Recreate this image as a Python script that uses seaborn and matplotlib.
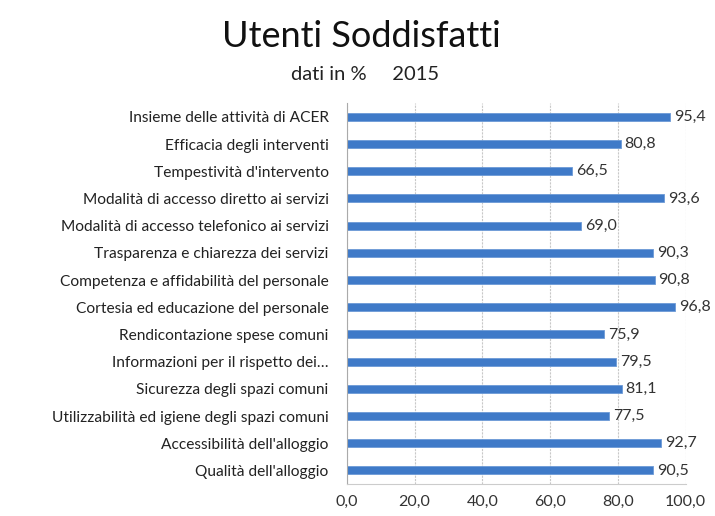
import numpy as np
import pandas as pd
import matplotlib
matplotlib.use("Agg")
import matplotlib.pyplot as plt
import seaborn as sns

# ========== DATI ==========
categorie = [
    "Insieme delle attività di ACER",
    "Efficacia degli interventi",
    "Tempestività d'intervento",
    "Modalità di accesso diretto ai servizi",
    "Modalità di accesso telefonico ai servizi",
    "Trasparenza e chiarezza dei servizi",
    "Competenza e affidabilità del personale",
    "Cortesia ed educazione del personale",
    "Rendicontazione spese comuni",
    "Informazioni per il rispetto dei…",
    "Sicurezza degli spazi comuni",
    "Utilizzabilità ed igiene degli spazi comuni",
    "Accessibilità dell'alloggio",
    "Qualità dell'alloggio",
]
valori = [95.4, 80.8, 66.5, 93.6, 69.0, 90.3, 90.8, 96.8, 75.9, 79.5, 81.1, 77.5, 92.7, 90.5]
tick_x = [0, 20, 40, 60, 80, 100]

df = pd.DataFrame({"categoria": categorie, "valore": valori})

sns.set_style("white")
plt.rcParams["font.family"] = ["Lato", "DejaVu Sans"]

# ========== GRAFICO ==========
fig = plt.figure(figsize=(7.15, 5.16), dpi=100)
ax = fig.add_axes([0.485, 0.062, 0.474, 0.738])

sns.barplot(data=df, x="valore", y="categoria", orient="h", color="#3F7AC8",
            width=0.3, saturation=1, edgecolor="#6C9AD6", linewidth=0.6, ax=ax)

# etichette dei valori
for i, v in enumerate(valori):
    ax.text(v + 1.2, i, f"{v:.1f}".replace(".", ","), va="center", ha="left",
            fontsize=11.5, color="#333333")

ax.set_xlim(0, 100)
ax.set_ylim(len(categorie) - 0.5, -0.5)
ax.set_xticks(tick_x)
ax.set_xticklabels([f"{t:.1f}".replace(".", ",") for t in tick_x], fontsize=11.5, color="#333333")
ax.set_yticks(range(len(categorie)))
ax.set_yticklabels(categorie, fontsize=11.2, color="#222222")
ax.set_yticks(np.arange(-0.5, len(categorie), 1), minor=True)
ax.tick_params(axis="y", which="major", length=0, pad=13)
ax.tick_params(axis="y", which="minor", length=5, color="#AAAAAA", width=0.8)
ax.tick_params(axis="x", length=4, color="#CCCCCC", width=0.8, pad=4)
ax.set_xlabel("")
ax.set_ylabel("")

ax.grid(axis="x", color="#C8C8C8", linewidth=0.8, linestyle=(0, (2, 1)))
ax.set_axisbelow(True)
for s in ["top", "right"]:
    ax.spines[s].set_visible(False)
ax.spines["left"].set_color("#AAAAAA")
ax.spines["bottom"].set_color("#CCCCCC")
ax.spines["left"].set_linewidth(0.8)
ax.spines["bottom"].set_linewidth(0.8)

fig.text(0.505, 0.93, "Utenti Soddisfatti", ha="center", va="center", fontsize=26, color="#111111")
fig.text(0.51, 0.855, "dati in %     2015", ha="center", va="center", fontsize=14.5, color="#222222")

fig.savefig("out.png", dpi=100)
